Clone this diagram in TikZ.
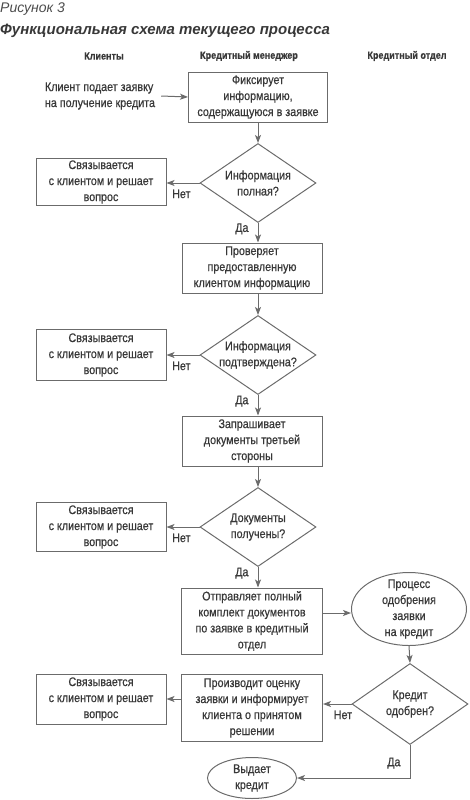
\documentclass[tikz,border=0pt]{standalone}
\usepackage{fontspec}
\setmainfont{Liberation Sans}[FakeStretch=0.86, FakeBold=0.6]
\newfontfamily\titlefont{Liberation Sans}
\usetikzlibrary{shapes.geometric,arrows.meta}

\def\midx{252}
\def\decx{258}
\def\sidex{101}

\begin{document}
\begin{tikzpicture}[x=1pt,y=-1pt,
    every node/.style={text=black!78, font=\fontsize{12.5}{16}\selectfont},
    head/.style={font=\bfseries\fontsize{10.5}{13}\selectfont},
    conn/.style={draw=black!58, line width=1pt, -{Stealth[length=8pt,width=6pt,inset=2pt]}},
    actbox/.style={draw=black!58, line width=1pt, align=center, minimum width=140pt, minimum height=50pt, inner sep=1pt},
    sidebox/.style={actbox, minimum width=130pt, minimum height=49pt},
    decis/.style={draw=black!58, line width=1pt, diamond, aspect=1.47, minimum width=116pt, minimum height=79pt, inner sep=0pt},
    oval/.style={draw=black!58, line width=1pt, ellipse, inner sep=0pt},
    answer/.style={inner sep=1pt}
]
    \useasboundingbox (0,0) rectangle (469,800);
    % titles
    \node[anchor=base west, inner sep=0pt, text=black!70, font=\titlefont\itshape\fontsize{14}{16}\selectfont] (fig) at (0,13) {Рисунок 3};
    \node[anchor=base west, inner sep=0pt, font=\titlefont\bfseries\itshape\fontsize{15}{18}\selectfont] (title) at (0,35) {Функциональная схема текущего процесса};
    % lanes
    \node[head] (lcl) at (104,56) {Клиенты};
    \node[head] (lkm) at (249,56) {Кредитный менеджер};
    \node[head] (lko) at (407,56) {Кредитный отдел};
    % client request
    \node[align=left, inner sep=1pt] (start) at (100,96) {Клиент подает заявку\\на получение кредита};
    \node[actbox, minimum width=139pt] (fix) at (\decx,97) {Фиксирует\\информацию,\\содержащуюся в заявке};
    \draw[conn] (start.east) ++(5,0) -- (fix.west);
    % check 1
    \node[decis, label={[align=center]center:Информация\\полная?}] (full) at (\decx,183) {};
    \node[sidebox, minimum height=47pt] (call1) at (\sidex,182) {Связывается\\с клиентом и решает\\вопрос};
    \draw[conn] (fix) -- (full);
    \draw[conn] (full.west) -- (full.west -| call1.east) node[answer, pos=0.55, below=5pt] {Нет};
    \node[actbox] (verify) at (\midx,268) {Проверяет\\предоставленную\\клиентом информацию};
    \draw[conn] (full.south) -- (full.south |- verify.north) node[answer, pos=0.3, left=8pt] {Да};
    % check 2
    \node[decis, label={[align=center]center:Информация\\подтверждена?}] (valid) at (\decx,355) {};
    \node[sidebox, minimum height=51pt] (call2) at (\sidex,355) {Связывается\\с клиентом и решает\\вопрос};
    \draw[conn] (verify.south -| valid.north) -- (valid.north);
    \draw[conn] (valid.west) -- (call2.east) node[answer, pos=0.55, below=5pt] {Нет};
    \node[actbox] (third) at (\midx,441) {Запрашивает\\документы третьей\\стороны};
    \draw[conn] (valid.south) -- (valid.south |- third.north) node[answer, pos=0.3, left=8pt] {Да};
    % check 3
    \node[decis, label={[align=center]center:Документы\\получены?}] (docs) at (\decx,527) {};
    \node[sidebox] (call3) at (\sidex,527) {Связывается\\с клиентом и решает\\вопрос};
    \draw[conn] (third.south -| docs.north) -- (docs.north);
    \draw[conn] (docs.west) -- (call3.east) node[answer, pos=0.55, below=5pt] {Нет};
    \node[actbox, minimum width=141pt, minimum height=66pt] (send) at (\midx,621) {Отправляет полный\\комплект документов\\по заявке в кредитный\\отдел};
    \draw[conn] (docs.south) -- (docs.south |- send.north) node[answer, pos=0.3, left=8pt] {Да};
    % credit department
    \node[oval, minimum width=115pt, minimum height=73pt, label={[align=center]center:Процесс\\одобрения\\заявки\\на кредит}] (approve) at (409,609) {};
    \draw[conn] (send.east |- 0,613) -- (approve.west |- 0,613);
    \node[decis, minimum height=81pt, label={[align=center]center:Кредит\\одобрен?}] (ok) at (410,704) {};
    \draw[conn] (approve.south) -- (ok.north);
    \node[actbox, minimum width=141pt, minimum height=67pt] (assess) at (\midx,708) {Производит оценку\\заявки и информирует\\клиента о принятом\\решении};
    \draw[conn] (ok.west) -- (ok.west -| assess.east) node[answer, pos=0.3, below=5pt] {Нет};
    \node[sidebox, minimum height=50pt] (call4) at (\sidex,699) {Связывается\\с клиентом и решает\\вопрос};
    \draw[conn] (assess.west |- call4.east) -- (call4.east);
    \node[oval, minimum width=89pt, minimum height=41pt, label={[align=center]center:Выдает\\кредит}] (issue) at (\midx,778) {};
    \draw[conn] (ok.south) -- (ok.south |- issue.east) node[answer, pos=0.55, left=8pt] {Да} -- (issue.east);
\end{tikzpicture}
\end{document}
